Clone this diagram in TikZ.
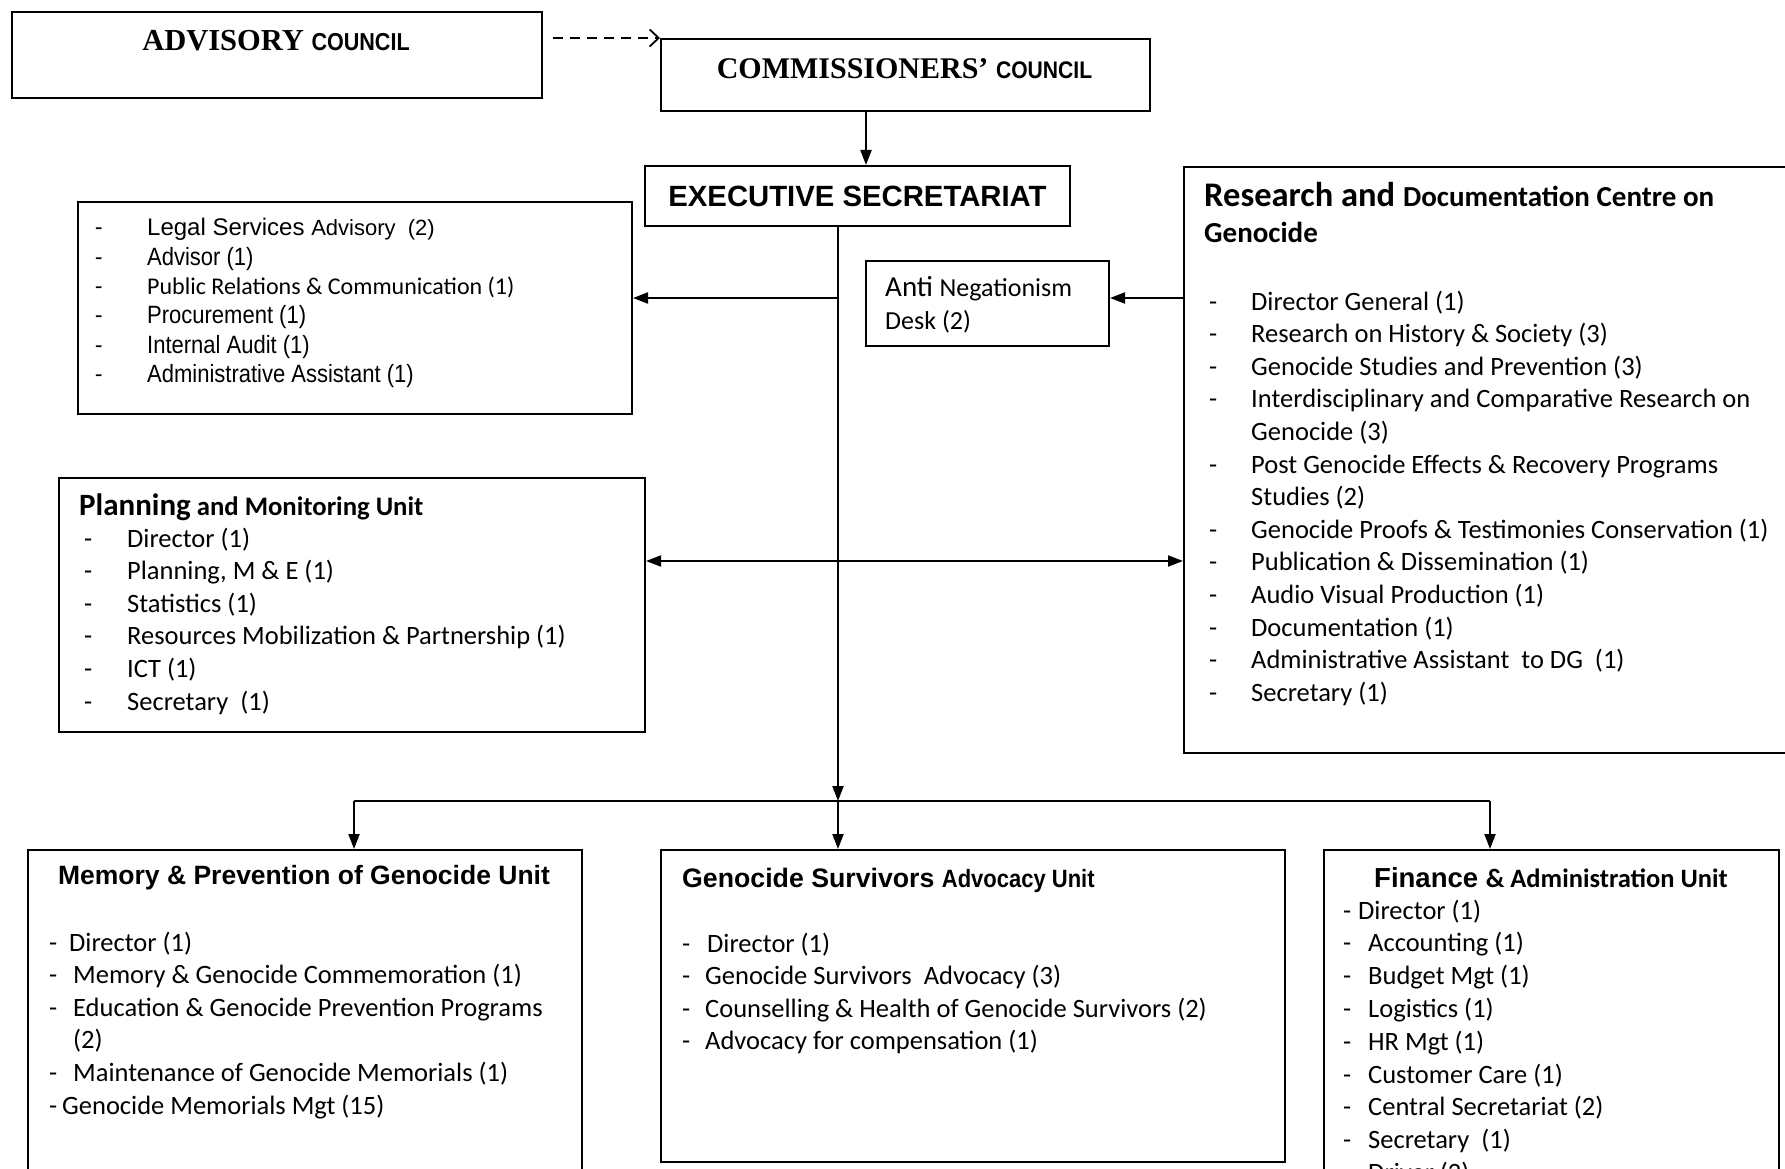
\documentclass[tikz,border=0pt]{standalone}
\usepackage{fontspec}
\setmainfont{Carlito}
\newfontfamily\arialfont{Liberation Sans}
\newfontfamily\narrowfont[FakeStretch=0.88]{Liberation Sans}
\newfontfamily\timesfont{Liberation Serif}
\usetikzlibrary{positioning,calc,arrows.meta}

\newcommand{\setfs}[2]{\fontsize{#1}{#2}\selectfont}
\newcommand{\ditem}[1]{\makebox[#1][l]{-}}
\newcommand{\stafflines}[1]{\begin{tabular}[t]{@{}l@{}}#1\end{tabular}}

\tikzset{
  unit box/.style={
    rectangle, draw, line width=2pt,
    inner sep=0pt, anchor=north west,
  },
  unit title/.style={
    anchor=base, inner sep=0pt,
  },
  staff list/.style={
    anchor=base west, inner sep=0pt,
    font=\setfs{26.5}{32.6},
  },
  link/.style={
    line width=2pt, -{Triangle[length=15pt, width=11pt]},
  },
  link both/.style={
    line width=2pt,
    {Triangle[length=15pt, width=11pt]}-{Triangle[length=15pt, width=11pt]},
  },
  advice link/.style={
    line width=1.8pt, dash pattern=on 10pt off 7pt,
    -{Straight Barb[length=9pt, width=17pt]},
  },
}

\begin{document}
\begin{tikzpicture}[x=1pt, y=-1pt]

\path[use as bounding box, fill=white] (0,0) rectangle (1785,1169);
\clip (0,0) rectangle (1785,1169);

% --- councils ---
\node[unit box, minimum width=530pt, minimum height=86pt] (advisory) at (11,11) {};
\node[unit title] at (276,51)
  {{\timesfont\bfseries\setfs{30.5}{34}ADVISORY }{\narrowfont\bfseries\setfs{24.5}{34}COUNCIL}};

\node[unit box, minimum width=489pt, minimum height=72pt] (comm) at (660,38) {};
\node[unit title] at (904.5,79)
  {{\timesfont\bfseries\setfs{30}{34}COMMISSIONERS’ }{\narrowfont\bfseries\setfs{24}{34}COUNCIL}};

% --- executive secretariat ---
\node[unit box, minimum width=425pt, minimum height=60pt,
      font=\arialfont\bfseries\setfs{29.3}{34}] (exec) at (644,165) {EXECUTIVE SECRETARIAT};

% --- legal services / advisors ---
\node[unit box, minimum width=554pt, minimum height=212pt] (legal) at (77,201) {};
\node[staff list, font=\setfs{24}{29.3}] (legalList) at (95,236)
  {\stafflines{\ditem{52pt}{\arialfont\setfs{24}{29.3}Legal Services \setfs{22}{29.3}Advisory\ \ (2)}\\
   \ditem{52pt}{\narrowfont\setfs{25}{29.3}Advisor (1)}\\
   \ditem{52pt}Public Relations \& Communication (1)\\
   \ditem{52pt}{\narrowfont\setfs{25}{29.3}Procurement (1)}\\
   \ditem{52pt}{\narrowfont\setfs{25}{29.3}Internal Audit (1)}\\
   \ditem{52pt}{\narrowfont\setfs{25}{29.3}Administrative Assistant (1)}}};

% --- anti negationism desk ---
\node[unit box, minimum width=243pt, minimum height=85pt] (anti) at (865,260) {};
\node[staff list, font=\setfs{26}{33}] (antiText) at (885,296)
  {\stafflines{{\setfs{29}{33}Anti \setfs{26}{33}Negationism}\\
   Desk (2)}};

% --- research and documentation centre ---
\node[unit box, minimum width=650pt, minimum height=586pt] (research) at (1183,166) {};
\node[staff list, font=\bfseries\setfs{29}{36}] (researchTitle) at (1204,206.5)
  {\stafflines{{\setfs{34.5}{36}Research and \setfs{29}{36}Documentation Centre on}\\
   Genocide}};
\node[staff list] (researchList) at (1209,310)
  {\stafflines{\ditem{42pt}Director General (1)\\
   \ditem{42pt}Research on History \& Society (3)\\
   \ditem{42pt}Genocide Studies and Prevention (3)\\
   \ditem{42pt}Interdisciplinary and Comparative Research on\\
   \hspace*{42pt}Genocide (3)\\
   \ditem{42pt}Post Genocide Effects \& Recovery Programs\\
   \hspace*{42pt}Studies (2)\\
   \ditem{42pt}Genocide Proofs \& Testimonies Conservation (1)\\
   \ditem{42pt}Publication \& Dissemination (1)\\
   \ditem{42pt}Audio Visual Production (1)\\
   \ditem{42pt}Documentation (1)\\
   \ditem{42pt}Administrative Assistant\ \ to DG\ \ (1)\\
   \ditem{42pt}Secretary (1)}};

% --- planning and monitoring ---
\node[unit box, minimum width=586pt, minimum height=254pt] (planning) at (58,477) {};
\node[staff list, font=\bfseries\setfs{26.7}{32.5}] (planningTitle) at (79,515.5)
  {{\setfs{31}{32.5}Planning} and Monitoring Unit};
\node[staff list] (planningList) at (84,547)
  {\stafflines{\ditem{43pt}Director (1)\\
   \ditem{43pt}Planning, M \& E (1)\\
   \ditem{43pt}Statistics (1)\\
   \ditem{43pt}Resources Mobilization \& Partnership (1)\\
   \ditem{43pt}ICT (1)\\
   \ditem{43pt}Secretary\ \ (1)}};

% --- bottom units ---
\node[unit box, minimum width=554pt, minimum height=400pt] (memory) at (27,849) {};
\node[unit title, font=\arialfont\bfseries\setfs{26.5}{32}] at (304,884.5)
  {Memory \& Prevention of Genocide Unit};
\node[staff list] (memoryList) at (49,951)
  {\stafflines{\ditem{20pt}Director (1)\\
   \ditem{24pt}Memory \& Genocide Commemoration (1)\\
   \ditem{24pt}Education \& Genocide Prevention Programs\\
   \hspace*{24pt}(2)\\
   \ditem{24pt}Maintenance of Genocide Memorials (1)\\
   \ditem{13pt}Genocide Memorials Mgt (15)}};

\node[unit box, minimum width=624pt, minimum height=312pt] (survivors) at (660,849) {};
\node[staff list] (survivorsTitle) at (682,887)
  {{\arialfont\bfseries\setfs{26.7}{32}Genocide Survivors }{\narrowfont\bfseries\setfs{25}{32}Advocacy Unit}};
\node[staff list, font=\setfs{26.5}{32.3}] (survivorsList) at (682,952.5)
  {\stafflines{\ditem{25pt}Director (1)\\
   \ditem{23pt}Genocide Survivors\ \ Advocacy (3)\\
   \ditem{23pt}Counselling \& Health of Genocide Survivors (2)\\
   \ditem{23pt}Advocacy for compensation (1)}};

\node[unit box, minimum width=455pt, minimum height=400pt] (finance) at (1323,849) {};
\node[unit title] at (1551,887)
  {{\arialfont\bfseries\setfs{27.5}{32}Finance }{\bfseries\setfs{26.5}{32}\& Administration Unit}};
\node[staff list, font=\setfs{26.5}{32.8}] (financeList) at (1343,919)
  {\stafflines{\ditem{15pt}Director (1)\\
   \ditem{25pt}Accounting (1)\\
   \ditem{25pt}Budget Mgt (1)\\
   \ditem{25pt}Logistics (1)\\
   \ditem{25pt}HR Mgt (1)\\
   \ditem{25pt}Customer Care (1)\\
   \ditem{25pt}Central Secretariat (2)\\
   \ditem{25pt}Secretary\ \ (1)\\
   \ditem{25pt}Driver (2)}};

% --- connectors ---
\coordinate (trunk) at ([xshift=-19.5pt]exec.south);
\coordinate (busL) at (354,801);
\coordinate (busR) at (1490,801);
\coordinate (legalIn) at ([yshift=10pt]legal.east);

\draw[advice link] ([xshift=10pt]advisory.east |- comm.north west) -- (comm.north west);
\draw[link] ([xshift=-39.5pt]comm.south) -- ([xshift=-39.5pt]comm.south |- exec.north);
\draw[link] (trunk) -- (trunk |- busL);
\draw[line width=2pt] (busL) -- (busR);
\draw[link] (busL) -- (busL |- memory.north);
\draw[link] (trunk |- busL) -- (trunk |- survivors.north);
\draw[link] (busR) -- (busR |- finance.north);
\draw[link] (trunk |- legalIn) -- (legalIn);
\draw[link] (research.west |- legalIn) -- (anti.east |- legalIn);
\draw[link both] ([yshift=44pt]planning.east) -- ([yshift=44pt]planning.east -| research.west);

\end{tikzpicture}
\end{document}
